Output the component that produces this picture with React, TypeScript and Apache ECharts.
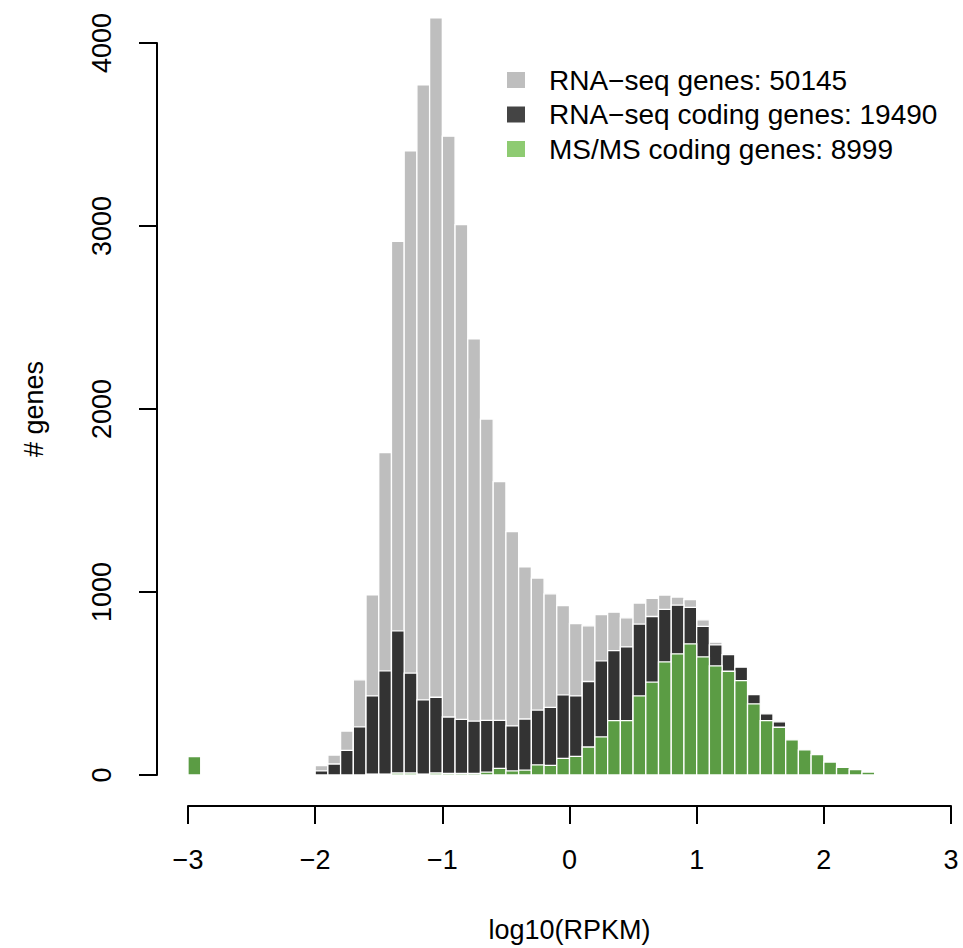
import React, { useEffect, useRef } from "react";
import * as echarts from "echarts";

// Histogram bins (left edge, width 0.1 in log10 RPKM)
const binStarts = [
  -3.0,
  -2.0, -1.9, -1.8, -1.7, -1.6, -1.5, -1.4, -1.3, -1.2, -1.1,
  -1.0, -0.9, -0.8, -0.7, -0.6, -0.5, -0.4, -0.3, -0.2, -0.1,
  0.0, 0.1, 0.2, 0.3, 0.4, 0.5, 0.6, 0.7, 0.8, 0.9,
  1.0, 1.1, 1.2, 1.3, 1.4, 1.5, 1.6, 1.7, 1.8, 1.9,
  2.0, 2.1, 2.2, 2.3, 2.4,
];
const binWidth = 0.1;

// All RNA-seq genes per bin
const allGenes = [
  100,
  51, 109, 240, 520, 985, 1762, 2916, 3410, 3771, 4137,
  3491, 3008, 2384, 1945, 1603, 1330, 1137, 1076, 990, 926,
  828, 815, 877, 890, 859, 940, 965, 983, 972, 958,
  848, 726, 662, 592, 442, 336, 296, 195, 138, 112,
  72, 43, 30, 17, 6,
];

// RNA-seq protein-coding genes per bin
const codingGenes = [
  100,
  22, 60, 135, 263, 432, 569, 788, 557, 410, 425,
  317, 304, 294, 299, 299, 268, 306, 355, 370, 438,
  432, 511, 624, 680, 700, 825, 866, 905, 928, 916,
  812, 711, 658, 589, 440, 334, 290, 193, 137, 111,
  71, 42, 29, 16, 5,
];

// Coding genes detected by MS/MS per bin
const msmsGenes = [
  100,
  0, 0, 0, 0, 5, 5, 11, 11, 5, 11,
  9, 9, 9, 16, 36, 22, 27, 55, 53, 91,
  102, 153, 208, 297, 297, 432, 507, 618, 662, 717,
  646, 596, 567, 516, 389, 297, 261, 192, 137, 111,
  71, 42, 29, 16, 5,
];

const xTicks = [-3, -2, -1, 0, 1, 2, 3];
const yTicks = [0, 1000, 2000, 3000, 4000];

const seriesNames = [
  "RNA\u2212seq genes: 50145",
  "RNA\u2212seq coding genes: 19490",
  "MS/MS coding genes: 8999",
];
const barColors = ["#bebebe", "#333333", "#5b9c44"];
const legendColors = ["#bebebe", "#444444", "#8ecb72"];

const FONT = "'Liberation Sans', Arial, Helvetica, sans-serif";
const FS = 27;

function histSeries(name: string, values: number[], color: string) {
  const data = binStarts
    .map((b, i) => [b, values[i]])
    .filter((d) => d[1] > 0);
  return {
    name,
    type: "custom",
    clip: false,
    data,
    encode: { x: 0, y: 1 },
    itemStyle: { color },
    renderItem: (params: any, api: any) => {
      const x0 = api.value(0);
      const v = api.value(1);
      const pTop = api.coord([x0, v]);
      const pBase = api.coord([x0 + binWidth, 0]);
      return {
        type: "rect",
        shape: {
          x: pTop[0],
          y: pTop[1],
          width: pBase[0] - pTop[0],
          height: pBase[1] - pTop[1],
        },
        style: { fill: color, stroke: "#ffffff", lineWidth: 1.3 },
      };
    },
  };
}

export default function App() {
  const ref = useRef<HTMLDivElement>(null);

  useEffect(() => {
    if (!ref.current) return;
    const chart = echarts.init(ref.current, undefined, { renderer: "svg" });
    const axisLineStyle = { color: "#000", width: 2 };
    const fmt = (v: number) => String(v).replace("-", "\u2212");
    chart.setOption({
      animation: false,
      backgroundColor: "#ffffff",
      textStyle: { fontFamily: FONT },
      grid: { left: 188, right: 12, top: 43, bottom: 173, containLabel: false },
      legend: {
        orient: "vertical",
        left: 502,
        top: 61,
        icon: "rect",
        itemWidth: 18,
        itemHeight: 16,
        itemGap: 6.5,
        selectedMode: false,
        textStyle: {
          fontFamily: FONT,
          fontSize: 28,
          lineHeight: 28,
          color: "#000",
          padding: [0, 0, 0, 19],
        },
        data: seriesNames.map((n, i) => ({
          name: n,
          icon: "rect",
          itemStyle: { color: legendColors[i] },
        })),
      },
      xAxis: {
        type: "value",
        min: xTicks[0],
        max: xTicks[xTicks.length - 1],
        interval: 1,
        offset: 31,
        axisLine: { show: true, onZero: false, lineStyle: axisLineStyle },
        axisTick: { show: true, length: 18, lineStyle: axisLineStyle },
        splitLine: { show: false },
        axisLabel: {
          fontFamily: FONT,
          fontSize: FS,
          color: "#000",
          margin: 40,
          formatter: fmt,
        },
        name: "log10(RPKM)",
        nameLocation: "middle",
        nameGap: 110,
        nameTextStyle: { fontFamily: FONT, fontSize: FS, color: "#000" },
      },
      yAxis: {
        type: "value",
        min: yTicks[0],
        max: yTicks[yTicks.length - 1],
        interval: 1000,
        offset: 31,
        axisLine: { show: true, onZero: false, lineStyle: axisLineStyle },
        axisTick: { show: true, length: 18, lineStyle: axisLineStyle },
        splitLine: { show: false },
        axisLabel: {
          fontFamily: FONT,
          fontSize: FS,
          color: "#000",
          rotate: 90,
          margin: 42,
          formatter: (v: number) => String(v),
        },
        name: "# genes",
        nameLocation: "middle",
        nameRotate: 90,
        nameGap: 110,
        nameTextStyle: { fontFamily: FONT, fontSize: FS, color: "#000" },
      },
      series: [
        histSeries(seriesNames[0], allGenes, barColors[0]),
        histSeries(seriesNames[1], codingGenes, barColors[1]),
        histSeries(seriesNames[2], msmsGenes, barColors[2]),
      ],
    });
    return () => chart.dispose();
  }, []);

  return (
    <div
      ref={ref}
      style={{ position: "absolute", left: 0, top: 0, width: 963, height: 948 }}
    />
  );
}
